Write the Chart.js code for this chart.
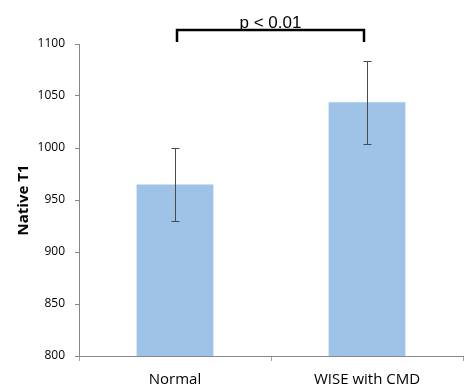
<!DOCTYPE html>
<html>
<head>
<meta charset="utf-8">
<script src="https://cdn.jsdelivr.net/npm/chart.js@4/dist/chart.umd.min.js"></script>
<style>
html,body{margin:0;padding:0;background:#fff;}
#wrap{width:471px;height:387px;position:relative;}
</style>
</head>
<body>
<div id="wrap"><canvas id="c" width="471" height="387"></canvas></div>
<script>
const categories = ["Normal", "WISE with CMD"];
const means = [965, 1044];
const errLow = [930, 1004];
const errHigh = [1000, 1084];
const yTicks = [800, 850, 900, 950, 1000, 1050, 1100];
const sigLabel = "p < 0.01";
const yTitle = "Native T1";

const overlay = {
  id: 'overlay',
  afterDatasetsDraw(chart) {
    const ctx = chart.ctx;
    const y = chart.scales.y;
    const meta = chart.getDatasetMeta(0);
    ctx.save();
    ctx.strokeStyle = '#4a4a4a';
    ctx.lineWidth = 1;
    meta.data.forEach((bar, i) => {
      const x = Math.round(bar.x) + 0.5;
      const yt = Math.round(y.getPixelForValue(errHigh[i])) + 0.5;
      const yb = Math.round(y.getPixelForValue(errLow[i])) + 0.5;
      ctx.beginPath();
      ctx.moveTo(x, yt); ctx.lineTo(x, yb);
      ctx.moveTo(x - 4, yt); ctx.lineTo(x + 4, yt);
      ctx.moveTo(x - 4, yb); ctx.lineTo(x + 4, yb);
      ctx.stroke();
    });
    // significance bracket
    const x1 = meta.data[0].x + 2, x2 = meta.data[1].x - 3;
    const top = chart.chartArea.top;
    ctx.strokeStyle = '#000';
    ctx.lineWidth = 2.5;
    ctx.beginPath();
    ctx.moveTo(x1, top - 2);
    ctx.lineTo(x1, top - 14);
    ctx.lineTo(x2, top - 14);
    ctx.lineTo(x2, top - 2);
    ctx.stroke();
    ctx.fillStyle = '#000';
    ctx.font = '17px "Liberation Sans", Arial, sans-serif';
    ctx.textAlign = 'center';
    ctx.textBaseline = 'alphabetic';
    ctx.fillText(sigLabel, (x1 + x2) / 2, top - 16);
    ctx.restore();
  }
};

new Chart(document.getElementById('c'), {
  type: 'bar',
  data: {
    labels: categories,
    datasets: [{
      data: means,
      backgroundColor: '#9fc2e7',
      borderWidth: 0,
      categoryPercentage: 1.0,
      barPercentage: 0.4
    }]
  },
  options: {
    responsive: false,
    animation: false,
    events: [],
    layout: { padding: { top: 44, right: 8, left: 0, bottom: 0 } },
    plugins: { legend: { display: false }, tooltip: { enabled: false }, title: { display: false } },
    scales: {
      x: {
        grid: { drawOnChartArea: false, tickLength: 5, color: '#a0a0a0', offset: true },
        border: { color: '#888888', width: 1 },
        ticks: { color: '#000', font: { family: '"Open Sans", sans-serif', size: 15 }, padding: 10 },
        afterFit(s) { s.height = 31; }
      },
      y: {
        min: 800, max: 1100,
        afterBuildTicks(s) { s.ticks = yTicks.map(v => ({ value: v })); },
        grid: { drawOnChartArea: false, tickLength: 4, color: '#888888' },
        border: { color: '#888888', width: 1 },
        ticks: { color: '#000', font: { family: '"Open Sans", sans-serif', size: 12 }, padding: 10, callback: v => String(v) },
        title: { display: true, text: yTitle, color: '#000', font: { family: '"Open Sans", sans-serif', size: 15, weight: 'bold' }, padding: { top: 15, bottom: 0 } },
        afterFit(s) { s.width = 79; }
      }
    }
  },
  plugins: [overlay]
});
</script>
</body>
</html>
